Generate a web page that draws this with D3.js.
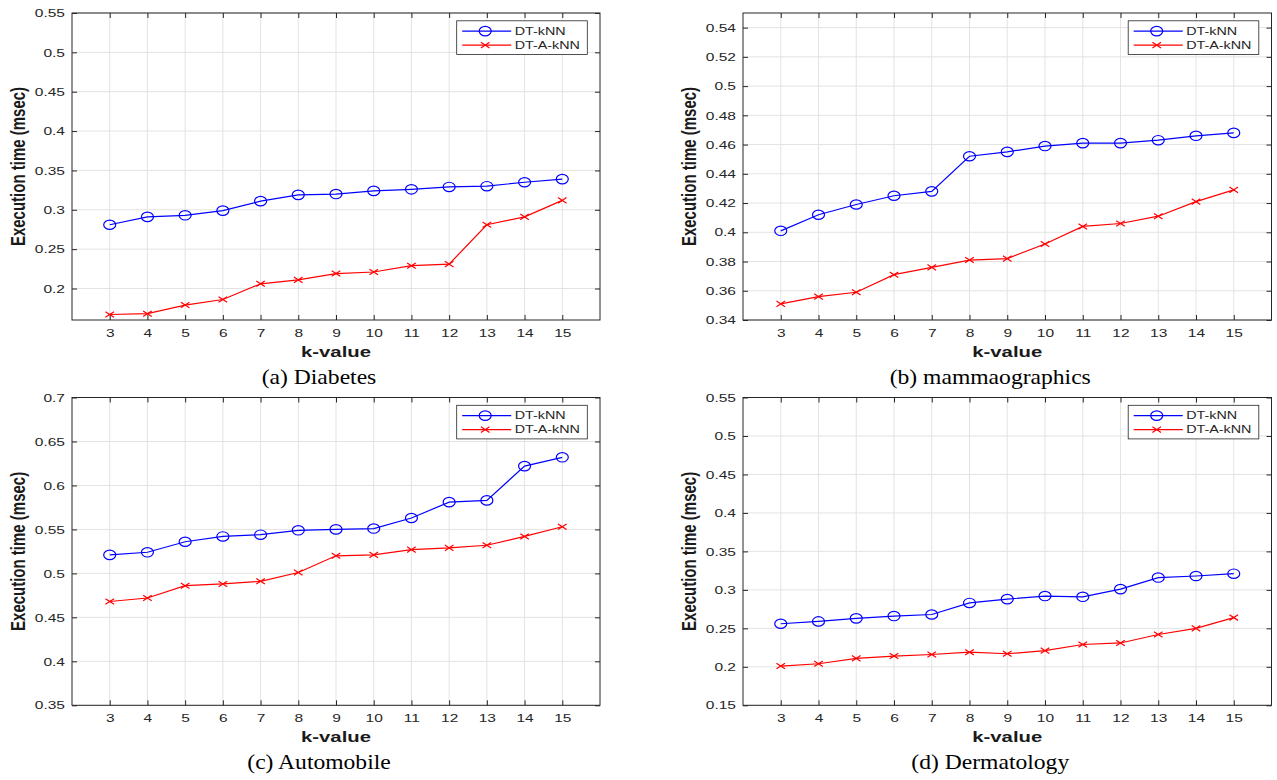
<!DOCTYPE html>
<html>
<head>
<meta charset="utf-8">
<script src="https://cdn.jsdelivr.net/npm/d3@7"></script>
<style>
    body { margin: 0; background: #fff; }
    svg { display: block; }
    text { font-family: "Liberation Sans", Arial, sans-serif; }
</style>
</head>
<body>
<svg id="chart" width="1277" height="780"></svg>
<script>
// k values on the x axis
const kValues = [3, 4, 5, 6, 7, 8, 9, 10, 11, 12, 13, 14, 15];
const seriesNames = ['DT-kNN', 'DT-A-kNN'];

// (a) Diabetes
const diabetesKnn  = [0.281, 0.291, 0.293, 0.299, 0.311, 0.319, 0.320, 0.324, 0.326, 0.329, 0.330, 0.335, 0.339];
const diabetesAknn = [0.167, 0.168, 0.179, 0.186, 0.206, 0.211, 0.219, 0.221, 0.229, 0.231, 0.281, 0.291, 0.312];
const diabetesTicks = [0.2, 0.25, 0.3, 0.35, 0.4, 0.45, 0.5, 0.55];

// (b) mammaographics
const mammoKnn  = [0.401, 0.412, 0.419, 0.425, 0.428, 0.452, 0.455, 0.459, 0.461, 0.461, 0.463, 0.466, 0.468];
const mammoAknn = [0.351, 0.356, 0.359, 0.371, 0.376, 0.381, 0.382, 0.392, 0.404, 0.406, 0.411, 0.421, 0.429];
const mammoTicks = [0.34, 0.36, 0.38, 0.4, 0.42, 0.44, 0.46, 0.48, 0.5, 0.52, 0.54];

// (c) Automobile
const autoKnn  = [0.521, 0.524, 0.536, 0.542, 0.544, 0.549, 0.550, 0.551, 0.563, 0.581, 0.583, 0.622, 0.632];
const autoAknn = [0.468, 0.472, 0.486, 0.488, 0.491, 0.501, 0.520, 0.521, 0.527, 0.529, 0.532, 0.542, 0.553];
const autoTicks = [0.35, 0.4, 0.45, 0.5, 0.55, 0.6, 0.65, 0.7];

// (d) Dermatology
const dermaKnn  = [0.256, 0.259, 0.263, 0.266, 0.268, 0.283, 0.288, 0.292, 0.291, 0.301, 0.316, 0.318, 0.321];
const dermaAknn = [0.201, 0.204, 0.211, 0.214, 0.216, 0.219, 0.217, 0.221, 0.229, 0.231, 0.242, 0.250, 0.264];
const dermaTicks = [0.15, 0.2, 0.25, 0.3, 0.35, 0.4, 0.45, 0.5, 0.55];

const panels = [
    { caption: '(a) Diabetes', knn: diabetesKnn, aknn: diabetesAknn, ticks: diabetesTicks, yDomain: [0.16, 0.55],
      left: 72, right: 600, top: 13, bottom: 320 },
    { caption: '(b) mammaographics', knn: mammoKnn, aknn: mammoAknn, ticks: mammoTicks, yDomain: [0.34, 0.55],
      left: 743, right: 1271.5, top: 13, bottom: 320 },
    { caption: '(c) Automobile', knn: autoKnn, aknn: autoAknn, ticks: autoTicks, yDomain: [0.35, 0.7],
      left: 72, right: 600, top: 397.5, bottom: 705.3 },
    { caption: '(d) Dermatology', knn: dermaKnn, aknn: dermaAknn, ticks: dermaTicks, yDomain: [0.15, 0.55],
      left: 743, right: 1271.5, top: 397.5, bottom: 705.3 }
];

const svg = d3.select('#chart');
const axisColor = '#262626';
const gridColor = '#e3e3e3';
const blue = '#0000ff';
const red = '#ff0000';
const SX = 1.35; // the figure is horizontally stretched

panels.forEach(drawPanel);

function drawPanel(p) {
    const x = d3.scaleLinear().domain([2, 16]).range([p.left, p.right]);
    const y = d3.scaleLinear().domain(p.yDomain).range([p.bottom, p.top]);
    const g = svg.append('g');
    const w = p.right - p.left, h = p.bottom - p.top;

    // grid
    g.append('g').selectAll('line').data(kValues).join('line')
        .attr('x1', d => x(d)).attr('x2', d => x(d))
        .attr('y1', p.top).attr('y2', p.bottom)
        .attr('stroke', gridColor).attr('stroke-width', 1);
    g.append('g').selectAll('line').data(p.ticks).join('line')
        .attr('x1', p.left).attr('x2', p.right)
        .attr('y1', d => y(d)).attr('y2', d => y(d))
        .attr('stroke', gridColor).attr('stroke-width', 1);

    const fmt = d => String(+d.toFixed(2));

    // bottom axis with labels
    const xb = g.append('g').attr('transform', `translate(0,${p.bottom})`)
        .call(d3.axisBottom(x).tickValues(kValues).tickSizeInner(-5).tickSizeOuter(0).tickPadding(8.8));
    // left axis with labels
    const yl = g.append('g').attr('transform', `translate(${p.left},0)`)
        .call(d3.axisLeft(y).tickValues(p.ticks).tickFormat(fmt).tickSizeInner(-5).tickSizeOuter(0).tickPadding(5.2));
    // top and right ticks
    const xt = g.append('g').attr('transform', `translate(0,${p.top})`)
        .call(d3.axisTop(x).tickValues(kValues).tickFormat('').tickSizeInner(-5).tickSizeOuter(0));
    const yr = g.append('g').attr('transform', `translate(${p.right},0)`)
        .call(d3.axisRight(y).tickValues(p.ticks).tickFormat('').tickSizeInner(-5).tickSizeOuter(0));

    [xb, yl, xt, yr].forEach(a => {
        a.select('.domain').remove();
        a.selectAll('line').attr('stroke', axisColor);
        a.selectAll('text').attr('fill', axisColor).style('font-size', '11.5px')
            .style('font-family', '"Liberation Sans", Arial, sans-serif')
            .attr('transform', `scale(${SX},1)`);
    });

    // box
    g.append('rect').attr('x', p.left).attr('y', p.top).attr('width', w).attr('height', h)
        .attr('fill', 'none').attr('stroke', axisColor).attr('stroke-width', 1);

    // series
    const line = d3.line().x((d, i) => x(kValues[i])).y(d => y(d));
    g.append('path').datum(p.knn).attr('d', line).attr('fill', 'none')
        .attr('stroke', blue).attr('stroke-width', 1.2);
    g.append('path').datum(p.aknn).attr('d', line).attr('fill', 'none')
        .attr('stroke', red).attr('stroke-width', 1.2);

    g.append('g').selectAll('ellipse').data(p.knn).join('ellipse')
        .attr('cx', (d, i) => x(kValues[i])).attr('cy', d => y(d))
        .attr('rx', 6).attr('ry', 4.7)
        .attr('fill', 'none').attr('stroke', blue).attr('stroke-width', 1.2);
    g.append('g').selectAll('path').data(p.aknn).join('path')
        .attr('transform', (d, i) => `translate(${x(kValues[i])},${y(d)})`)
        .attr('d', 'M-4.3,-2.8L4.3,2.8M-4.3,2.8L4.3,-2.8')
        .attr('fill', 'none').attr('stroke', red).attr('stroke-width', 1.2);

    // axis titles
    g.append('text')
        .attr('transform', `translate(${p.left - 54},${(p.top + p.bottom) / 2}) scale(1.38,1) rotate(-90)`)
        .attr('text-anchor', 'middle').attr('dy', '0.36em')
        .style('font-size', '15px').style('font-weight', 'bold').attr('fill', '#1a1a1a')
        .text('Execution time (msec)');
    g.append('text')
        .attr('transform', `translate(${(p.left + p.right) / 2},${p.bottom + 36.5}) scale(1.4,1)`)
        .attr('text-anchor', 'middle')
        .style('font-size', '14.5px').style('font-weight', 'bold').attr('fill', '#1a1a1a')
        .text('k-value');

    // caption
    g.append('text')
        .attr('transform', `translate(${(p.left + p.right) / 2 - 17},${p.bottom + 63.5}) scale(1.18,1)`)
        .attr('text-anchor', 'middle')
        .style('font-family', '"Liberation Serif", "Times New Roman", serif')
        .style('font-size', '20px').attr('fill', '#000')
        .text(p.caption);

    // legend
    const lw = 130.6, lh = 33.6;
    const lx = p.right - 12.7 - lw, ly = p.top + 7.8;
    const leg = g.append('g').attr('transform', `translate(${lx},${ly})`);
    leg.append('rect').attr('width', lw).attr('height', lh)
        .attr('fill', '#fff').attr('stroke', axisColor).attr('stroke-width', 0.8);
    const rows = [{ name: seriesNames[0], color: blue, marker: 'o' }, { name: seriesNames[1], color: red, marker: 'x' }];
    rows.forEach((r, i) => {
        const cy = 10.3 + i * 14;
        leg.append('line').attr('x1', 5.5).attr('x2', 54.5).attr('y1', cy).attr('y2', cy)
            .attr('stroke', r.color).attr('stroke-width', 1.2);
        if (r.marker === 'o') {
            leg.append('ellipse').attr('cx', 28.5).attr('cy', cy).attr('rx', 6).attr('ry', 4.7)
                .attr('fill', 'none').attr('stroke', r.color).attr('stroke-width', 1.2);
        } else {
            leg.append('path').attr('transform', `translate(28.5,${cy})`)
                .attr('d', 'M-4.3,-2.8L4.3,2.8M-4.3,2.8L4.3,-2.8')
                .attr('fill', 'none').attr('stroke', r.color).attr('stroke-width', 1.2);
        }
        leg.append('text').attr('transform', `translate(58,${cy}) scale(1.34,1)`)
            .attr('dy', '0.36em').style('font-size', '10.7px').attr('fill', axisColor)
            .text(r.name);
    });
}
</script>
</body>
</html>
